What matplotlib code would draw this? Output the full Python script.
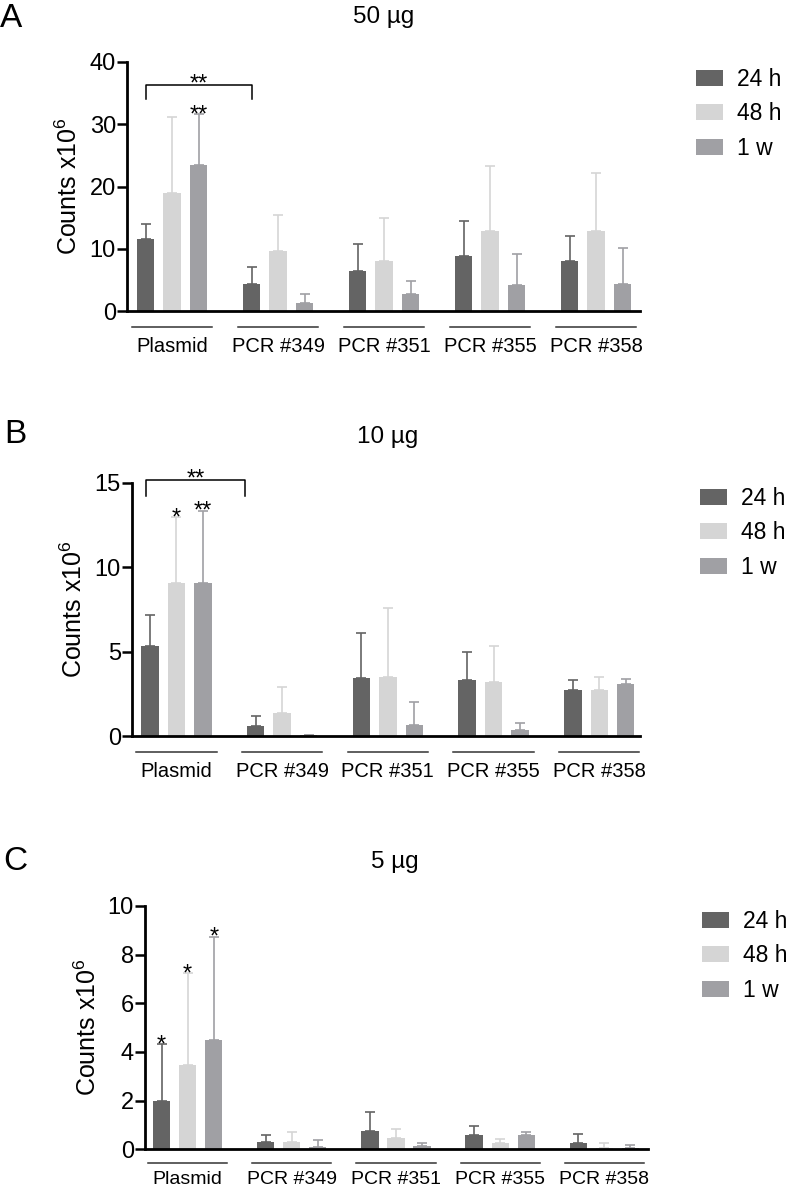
import numpy as np
import matplotlib
matplotlib.use('Agg')
import matplotlib.pyplot as plt
import matplotlib.transforms as mtransforms

plt.rcParams['font.family'] = ['Liberation Sans', 'DejaVu Sans']
plt.rcParams['mathtext.fontset'] = 'custom'
plt.rcParams['mathtext.rm'] = 'Liberation Sans'
plt.rcParams['mathtext.it'] = 'Liberation Sans:italic'

# groups and time points
groups = ['Plasmid', 'PCR #349', 'PCR #351', 'PCR #355', 'PCR #358']
times = ['24 h', '48 h', '1 w']
colors = ['#646464', '#d5d5d5', '#a0a0a4']

# panel A: 50 ug (mean, upper SD)
a_24 = [11.5, 4.4, 6.4, 8.9, 8.1]
a_24_err = [2.5, 2.6, 4.4, 5.6, 3.9]
a_48 = [18.9, 9.6, 8.1, 12.8, 12.9]
a_48_err = [12.3, 5.9, 6.8, 10.5, 9.3]
a_1w = [23.5, 1.3, 2.7, 4.1, 4.4]
a_1w_err = [8.1, 1.5, 2.1, 5.0, 5.7]

# panel B: 10 ug
b_24 = [5.36, 0.61, 3.43, 3.31, 2.76]
b_24_err = [1.8, 0.59, 2.7, 1.66, 0.57]
b_48 = [9.09, 1.36, 3.53, 3.2, 2.72]
b_48_err = [3.87, 1.54, 4.06, 2.13, 0.81]
b_1w = [9.09, 0.1, 0.67, 0.4, 3.09]
b_1w_err = [4.26, 0.0, 1.36, 0.37, 0.32]

# panel C: 5 ug
c_24 = [1.98, 0.31, 0.75, 0.6, 0.26]
c_24_err = [2.33, 0.29, 0.78, 0.36, 0.38]
c_48 = [3.46, 0.3, 0.46, 0.26, 0.05]
c_48_err = [3.77, 0.42, 0.39, 0.15, 0.21]
c_1w = [4.49, 0.08, 0.12, 0.6, 0.06]
c_1w_err = [4.25, 0.29, 0.15, 0.10, 0.13]

W, H = 789, 1191
fig = plt.figure(figsize=(W / 100, H / 100), dpi=100)


def px_axes(left, right, top, bottom):
    return fig.add_axes([left / W, 1 - bottom / H, (right - left) / W, (bottom - top) / H])


def star(ax, x, y, s, dy=-5):
    ax.annotate(s, (x, y), xytext=(0, dy), textcoords='offset points',
                ha='center', va='baseline', fontsize=17, annotation_clip=False)


def draw_panel(ax, series, errs, ymax, yticks, xlim, line_off=16, label_off=26, label_fs=14.5):
    x = np.arange(len(groups))
    w = 0.165
    offs = [-0.25, 0, 0.25]
    for i in range(3):
        ax.bar(x + offs[i], series[i], w, color=colors[i], label=times[i], zorder=2)
        ax.errorbar(x + offs[i], series[i], yerr=[np.zeros(len(groups)), errs[i]],
                    fmt='none', ecolor=colors[i], elinewidth=1.2, capsize=3.5,
                    capthick=1.2, zorder=1)
    ax.set_ylim(0, ymax)
    ax.set_yticks(yticks)
    ax.set_xlim(*xlim)
    ax.set_xticks([])
    for sp in ['top', 'right']:
        ax.spines[sp].set_visible(False)
    ax.spines['left'].set_linewidth(2)
    ax.spines['bottom'].set_linewidth(2)
    ax.tick_params(axis='y', length=7, width=1.8, labelsize=17, pad=1)
    ax.set_ylabel('Counts x10$^{6}$', fontsize=18)
    ax.yaxis.set_label_coords(-0.088, 0.5)
    # group labels with line above
    bl = mtransforms.blended_transform_factory(ax.transData, ax.transAxes)
    line_tr = bl + mtransforms.ScaledTranslation(0, -line_off / 100, fig.dpi_scale_trans)
    text_tr = bl + mtransforms.ScaledTranslation(0, -label_off / 100, fig.dpi_scale_trans)
    for g, name in enumerate(groups):
        ax.plot([g - 0.38, g + 0.38], [0, 0], color='#333333', lw=1.1,
                transform=line_tr, clip_on=False)
        ax.text(g, 0, name, transform=text_tr, ha='center', va='top', fontsize=label_fs)


def bracket(ax, x0, x1, y, y_end):
    ax.plot([x0, x0, x1, x1], [y_end, y, y, y_end], color='black', lw=1.1, clip_on=False)
    star(ax, (x0 + x1) / 2, y, '**', dy=-4)


# panel A
axA = px_axes(127, 640, 62, 311)
draw_panel(axA, [a_24, a_48, a_1w], [a_24_err, a_48_err, a_1w_err], 40, [0, 10, 20, 30, 40],
           (-0.425, 4.415))
bracket(axA, -0.25, 0.75, 36.3, 34.0)
star(axA, 0.25, a_1w[0] + a_1w_err[0], '**')

# panel B
axB = px_axes(132, 640, 482.7, 736.3)
draw_panel(axB, [b_24, b_48, b_1w], [b_24_err, b_48_err, b_1w_err], 15, [0, 5, 10, 15],
           (-0.42, 4.385))
bracket(axB, -0.29, 0.65, 15.17, 14.2)
star(axB, 0, b_48[0] + b_48_err[0], '*')
star(axB, 0.25, b_1w[0] + b_1w_err[0], '**')

# panel C
axC = px_axes(145, 648, 906, 1149.3)
draw_panel(axC, [c_24, c_48, c_1w], [c_24_err, c_48_err, c_1w_err], 10, [0, 2, 4, 6, 8, 10],
           (-0.41, 4.42), line_off=14, label_off=21.5, label_fs=14)
star(axC, -0.25, c_24[0] + c_24_err[0], '*')
star(axC, 0, c_48[0] + c_48_err[0], '*')
star(axC, 0.25, c_1w[0] + c_1w_err[0], '*')

# legends, titles, panel letters
for ax, lx, ly in [(axA, 696, 68), (axB, 700, 487), (axC, 702, 910)]:
    ax.legend(loc='upper left', bbox_to_anchor=(lx / W, 1 - ly / H), bbox_transform=fig.transFigure,
              frameon=False, fontsize=16.5, borderpad=0, borderaxespad=0, handlelength=1.18,
              handleheight=0.7, handletextpad=0.6, labelspacing=0.5)

for s, tx, ty in [('50 µg', 384, 23), ('10 µg', 388, 443), ('5 µg', 395, 868)]:
    fig.text(tx / W, 1 - ty / H, s, ha='center', va='baseline', fontsize=17.5)

for s, tx, ty in [('A', 0, 27), ('B', 4, 443), ('C', 3, 870)]:
    fig.text(tx / W, 1 - ty / H, s, ha='left', va='baseline', fontsize=24)

fig.savefig('out.png', dpi=100)
